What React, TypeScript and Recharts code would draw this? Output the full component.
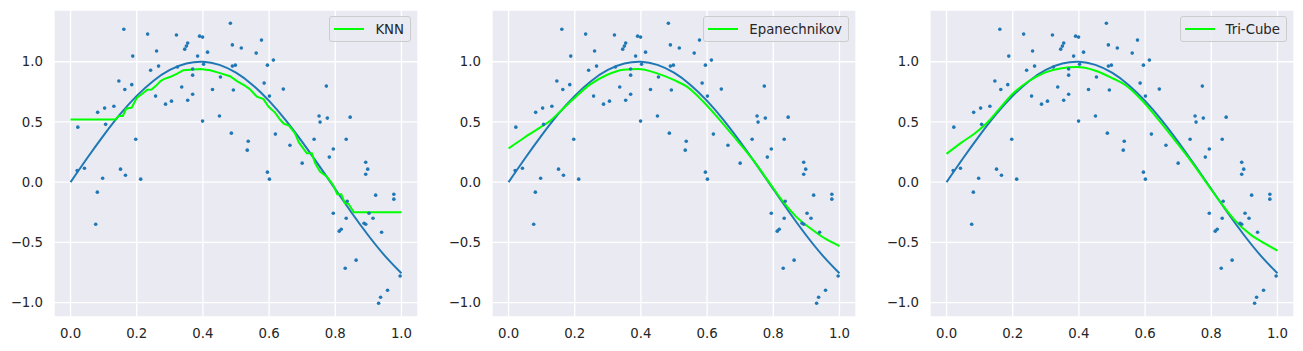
import React from "react";
import {
  ComposedChart,
  Scatter,
  Line,
  XAxis,
  YAxis,
  CartesianGrid,
  Legend,
} from "recharts";

// noisy samples (same in all three panels)
const sampleX = [
  0.022, 0.02, 0.042, 0.082, 0.081, 0.076, 0.097, 0.103, 0.106, 0.131, 0.146, 0.161,
  0.164, 0.151, 0.166, 0.185, 0.188, 0.197, 0.212, 0.233, 0.242, 0.257, 0.26, 0.266,
  0.287, 0.305, 0.32, 0.323, 0.336, 0.345, 0.35, 0.354, 0.354, 0.369, 0.369, 0.369,
  0.384, 0.39, 0.399, 0.399, 0.402, 0.414, 0.429, 0.45, 0.453, 0.483, 0.489, 0.489,
  0.498, 0.486, 0.492, 0.516, 0.534, 0.537, 0.561, 0.577, 0.585, 0.595, 0.601, 0.595,
  0.601, 0.613, 0.619, 0.643, 0.663, 0.7, 0.736, 0.751, 0.754, 0.773, 0.776, 0.782,
  0.794, 0.794, 0.812, 0.818, 0.83, 0.833, 0.833, 0.836, 0.845, 0.863, 0.887, 0.892,
  0.892, 0.898, 0.892, 0.902, 0.914, 0.922, 0.94, 0.931, 0.937, 0.958, 0.977, 0.977,
  0.996,
];
const sampleY = [
  0.457, 0.097, 0.116, 0.58, -0.083, -0.35, 0.033, 0.615, 0.48, 0.63, 0.84, 1.27,
  0.77, 0.108, 0.058, 0.81, 1.047, 0.357, 0.025, 1.23, 0.93, 0.715, 1.089, 0.964,
  0.648, 0.673, 1.222, 0.956, 0.79, 1.105, 1.13, 1.155, 0.68, 0.94, 0.889, 0.73,
  1.047, 1.213, 1.205, 0.507, 0.98, 1.08, 0.77, 0.549, 0.873, 1.32, 1.14, 0.964,
  0.972, 0.407, 0.765, 1.114, 0.266, 0.34, 1.072, 1.18, 0.823, 0.972, 0.715, 0.083,
  0.025, 1.014, 0.399, 0.773, 0.307, 0.158, 0.357, 0.549, 0.499, 0.798, 0.532, 0.208,
  0.276, -0.258, -0.407, -0.391, -0.715, 0.357, -0.3, -0.158, 0.54, -0.648, -0.341, -0.349,
  0.166, 0.108, 0.066, -0.258, -0.3, -0.108, -0.416, -1.006, -0.956, -0.898, -0.1, -0.141,
  -0.78,
];

// true curve
const trueX = [0, 0.05, 0.1, 0.15, 0.2, 0.25, 0.3, 0.35, 0.4, 0.45, 0.5, 0.55, 0.6, 0.65, 0.7, 0.75, 0.8, 0.85, 0.9, 0.95, 1.0];
const trueY = [0, 0.199, 0.389, 0.565, 0.717, 0.841, 0.932, 0.985, 1.0, 0.974, 0.909, 0.808, 0.675, 0.516, 0.335, 0.141, -0.058, -0.256, -0.443, -0.612, -0.757];

// KNN estimate
const knnX = [
  0, 0.136, 0.145, 0.158, 0.168, 0.185, 0.2, 0.215, 0.232, 0.245, 0.258, 0.272, 0.282, 0.3,
  0.321, 0.341, 0.392, 0.422, 0.452, 0.482, 0.503, 0.528, 0.543, 0.563, 0.583, 0.598, 0.618,
  0.633, 0.645, 0.66, 0.678, 0.69, 0.714, 0.729, 0.739, 0.754, 0.774, 0.794, 0.806, 0.818,
  0.829, 0.84, 0.856, 1.0,
];
const knnY = [
  0.52, 0.52, 0.55, 0.55, 0.61, 0.62, 0.7, 0.73, 0.767, 0.77, 0.8, 0.84, 0.856, 0.873,
  0.9, 0.93, 0.94, 0.93, 0.906, 0.88, 0.84, 0.8, 0.77, 0.71, 0.69, 0.628, 0.578,
  0.52, 0.485, 0.47, 0.407, 0.33, 0.24, 0.24, 0.158, 0.088, 0.047, -0.025, -0.1, -0.1,
  -0.175, -0.18, -0.25, -0.25,
];

// Epanechnikov estimate
const epaX = [0, 0.045, 0.096, 0.126, 0.156, 0.196, 0.246, 0.297, 0.347, 0.392, 0.447, 0.503, 0.538, 0.588, 0.638, 0.689, 0.739, 0.789, 0.829, 0.869, 0.919, 0.96, 1.0];
const epaY = [0.28, 0.365, 0.455, 0.51, 0.587, 0.69, 0.81, 0.89, 0.933, 0.94, 0.906, 0.845, 0.795, 0.67, 0.518, 0.352, 0.185, -0.008, -0.16, -0.286, -0.397, -0.474, -0.53];

// Tri-Cube estimate
const triX = [0, 0.046, 0.086, 0.121, 0.157, 0.197, 0.247, 0.297, 0.348, 0.393, 0.448, 0.503, 0.539, 0.589, 0.639, 0.689, 0.74, 0.79, 0.83, 0.87, 0.92, 0.96, 1.0];
const triY = [0.235, 0.33, 0.407, 0.49, 0.6, 0.726, 0.836, 0.91, 0.947, 0.956, 0.928, 0.861, 0.809, 0.684, 0.524, 0.352, 0.171, -0.022, -0.175, -0.313, -0.438, -0.507, -0.568];

const xTicks = [0, 0.2, 0.4, 0.6, 0.8, 1.0];
const yTicks = [-1, -0.5, 0, 0.5, 1];

const zip = (xs: number[], ys: number[]) => xs.map((x, i) => ({ x, y: ys[i] }));

const samples = zip(sampleX, sampleY);
const truth = zip(trueX, trueY);

const panels = [
  { name: "KNN", data: zip(knnX, knnY), curve: "linear" },
  { name: "Epanechnikov", data: zip(epaX, epaY), curve: "monotone" },
  { name: "Tri-Cube", data: zip(triX, triY), curve: "monotone" },
];

const FONT = "'DejaVu Sans', sans-serif";
const TEXT = "#262626";
const FS = 13.3;

const fmt = (v: number) => v.toFixed(1).replace("-", "\u2212");

const Dot = (props: any) => (
  <circle cx={props.cx} cy={props.cy} r={1.8} fill="#1f77b4" />
);

const LegendBox = ({ label }: { label: string }) => (
  <div
    style={{
      display: "flex",
      alignItems: "center",
      height: 24,
      padding: "0 6px 0 4px",
      background: "rgba(234,234,242,0.8)",
      border: "1px solid #cccccc",
      borderRadius: 3,
      fontFamily: FONT,
      fontSize: FS,
      color: TEXT,
      whiteSpace: "nowrap",
    }}
  >
    <span style={{ display: "inline-block", width: 30, height: 2, background: "#00ff00", marginRight: 11 }} />
    {label}
  </div>
);

const Panel = ({ name, data, curve }: { name: string; data: { x: number; y: number }[]; curve: any }) => (
  <ComposedChart width={438} height={351} margin={{ top: 10, right: 20, bottom: 10, left: 14 }}>
    <CartesianGrid fill="#eaeaf2" stroke="#ffffff" strokeWidth={1.3} />
    <XAxis
      dataKey="x"
      type="number"
      domain={[-0.05, 1.05]}
      ticks={xTicks}
      tickFormatter={fmt}
      axisLine={false}
      tickLine={false}
      tickSize={0}
      tickMargin={12}
      height={24}
      allowDataOverflow
      tick={{ fill: TEXT, fontSize: FS, fontFamily: FONT }}
    />
    <YAxis
      dataKey="y"
      type="number"
      domain={[-1.12, 1.43]}
      ticks={yTicks}
      tickFormatter={fmt}
      axisLine={false}
      tickLine={false}
      tickSize={0}
      tickMargin={11}
      width={40}
      allowDataOverflow
      tick={{ fill: TEXT, fontSize: FS, fontFamily: FONT }}
    />
    <Scatter data={samples} dataKey="y" shape={Dot} isAnimationActive={false} legendType="none" />
    <Line
      data={truth}
      dataKey="y"
      type="natural"
      stroke="#1f77b4"
      strokeWidth={2}
      dot={false}
      activeDot={false}
      isAnimationActive={false}
      legendType="none"
    />
    <Line
      data={data}
      dataKey="y"
      type={curve}
      stroke="#00ff00"
      strokeWidth={2}
      dot={false}
      activeDot={false}
      isAnimationActive={false}
      name={name}
    />
    <Legend
      layout="vertical"
      align="center"
      verticalAlign="middle"
      wrapperStyle={{ top: 16, right: 27, left: "auto", bottom: "auto", width: "auto", height: "auto" }}
      content={() => <LegendBox label={name} />}
    />
  </ComposedChart>
);

export default function App() {
  return (
    <div
      style={{
        position: "absolute",
        left: 0,
        top: 0,
        width: 1303,
        height: 351,
        background: "#ffffff",
        fontFamily: FONT,
      }}
    >
      {panels.map((p, i) => (
        <div key={p.name} style={{ position: "absolute", left: i * 438, top: 0 }}>
          <Panel name={p.name} data={p.data} curve={p.curve} />
        </div>
      ))}
    </div>
  );
}
